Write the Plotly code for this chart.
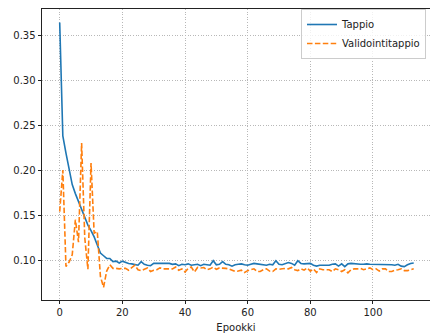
import plotly.graph_objects as go

epochs = list(range(114))

tappio = [
    0.364, 0.238, 0.219, 0.200, 0.184, 0.174, 0.165, 0.157, 0.147, 0.139,
    0.133, 0.126, 0.117, 0.108, 0.105, 0.102, 0.102, 0.0985, 0.099, 0.097,
    0.099, 0.0975, 0.0965, 0.096, 0.0955, 0.0945, 0.0985, 0.0955, 0.0945, 0.094,
    0.0965, 0.0965, 0.097, 0.0965, 0.097, 0.0965, 0.0955, 0.096, 0.094, 0.0955,
    0.095, 0.096, 0.0945, 0.095, 0.0955, 0.094, 0.0955, 0.095, 0.0945, 0.0995,
    0.095, 0.0955, 0.0985, 0.0955, 0.095, 0.0935, 0.095, 0.0955, 0.096, 0.095,
    0.0945, 0.0955, 0.0965, 0.096, 0.0955, 0.095, 0.0945, 0.0955, 0.095, 0.0995,
    0.0955, 0.095, 0.0965, 0.0975, 0.0965, 0.0945, 0.0995, 0.0965, 0.096, 0.096,
    0.0965, 0.0945, 0.0935, 0.0945, 0.0945, 0.0945, 0.0945, 0.0955, 0.096, 0.0935,
    0.096, 0.093, 0.096, 0.0965, 0.096, 0.096, 0.0955, 0.0955, 0.096, 0.0955,
    0.0955, 0.095, 0.0955, 0.0955, 0.095, 0.0955, 0.095, 0.0945, 0.0955, 0.0935,
    0.093, 0.095, 0.0965, 0.097,
]

validointitappio = [
    0.154, 0.200, 0.093, 0.098, 0.106, 0.145, 0.120, 0.230, 0.125, 0.090,
    0.208, 0.130, 0.132, 0.082, 0.070, 0.088, 0.095, 0.091, 0.091, 0.0905,
    0.091, 0.091, 0.089, 0.0915, 0.0945, 0.0895, 0.0885, 0.090, 0.0915, 0.0875,
    0.089, 0.0895, 0.0915, 0.0905, 0.0905, 0.090, 0.0905, 0.0925, 0.089, 0.0905,
    0.087, 0.091, 0.0925, 0.087, 0.092, 0.0915, 0.092, 0.0895, 0.0905, 0.0925,
    0.090, 0.0915, 0.0915, 0.091, 0.0905, 0.089, 0.0875, 0.088, 0.089, 0.0865,
    0.0885, 0.0895, 0.0905, 0.0875, 0.0875, 0.0895, 0.0905, 0.088, 0.0875, 0.0905,
    0.090, 0.0905, 0.091, 0.0905, 0.092, 0.0895, 0.0885, 0.0905, 0.089, 0.0915,
    0.088, 0.0905, 0.0865, 0.0905, 0.0895, 0.0895, 0.0895, 0.0875, 0.0905, 0.0895,
    0.0875, 0.0895, 0.086, 0.0895, 0.0905, 0.0905, 0.091, 0.0895, 0.0905, 0.0915,
    0.0895, 0.0905, 0.088, 0.0905, 0.0905, 0.0875, 0.0875, 0.089, 0.0895, 0.0905,
    0.0885, 0.0885, 0.0895, 0.0905,
]

x_ticks = [0, 20, 40, 60, 80, 100]
y_ticks = [0.10, 0.15, 0.20, 0.25, 0.30, 0.35]

font = "DejaVu Sans"

fig = go.Figure()
fig.add_trace(go.Scatter(x=epochs, y=tappio, mode="lines", name="Tappio",
                         line=dict(color="#1f77b4", width=1.6)))
fig.add_trace(go.Scatter(x=epochs, y=validointitappio, mode="lines", name="Validointitappio",
                         line=dict(color="#ff7f0e", width=1.6, dash="5.5px,2.4px")))

axis_common = dict(
    showline=True, linecolor="#222222", linewidth=0.9,
    ticks="outside", ticklen=3.5, tickwidth=0.9, tickcolor="#222222",
    showgrid=True, gridcolor="#b8b8b8", gridwidth=0.8, griddash="1px,1.6px",
    zeroline=False, tickfont=dict(family=font, size=10, color="#222222"),
)

fig.update_xaxes(range=[-5.65, 118.2], tickvals=x_ticks, mirror=True,
                 title=dict(text="Epookki", font=dict(family=font, size=10, color="#222222"), standoff=6),
                 **axis_common)
fig.update_yaxes(range=[0.0559, 0.3789], tickvals=y_ticks, tickformat=".2f", mirror=False,
                 **axis_common)

fig.update_layout(
    width=430, height=336,
    margin=dict(l=42, r=0, t=9, b=36),
    plot_bgcolor="white", paper_bgcolor="white",
    font=dict(family=font, size=10, color="#222222"),
    legend=dict(x=0.9897, y=1.0, xanchor="right", yanchor="top",
                bgcolor="rgba(255,255,255,0.8)", bordercolor="#cccccc", borderwidth=1,
                font=dict(family=font, size=10, color="#222222"), itemwidth=30,
                tracegroupgap=0),
    showlegend=True,
)

fig.write_html("out.html")
